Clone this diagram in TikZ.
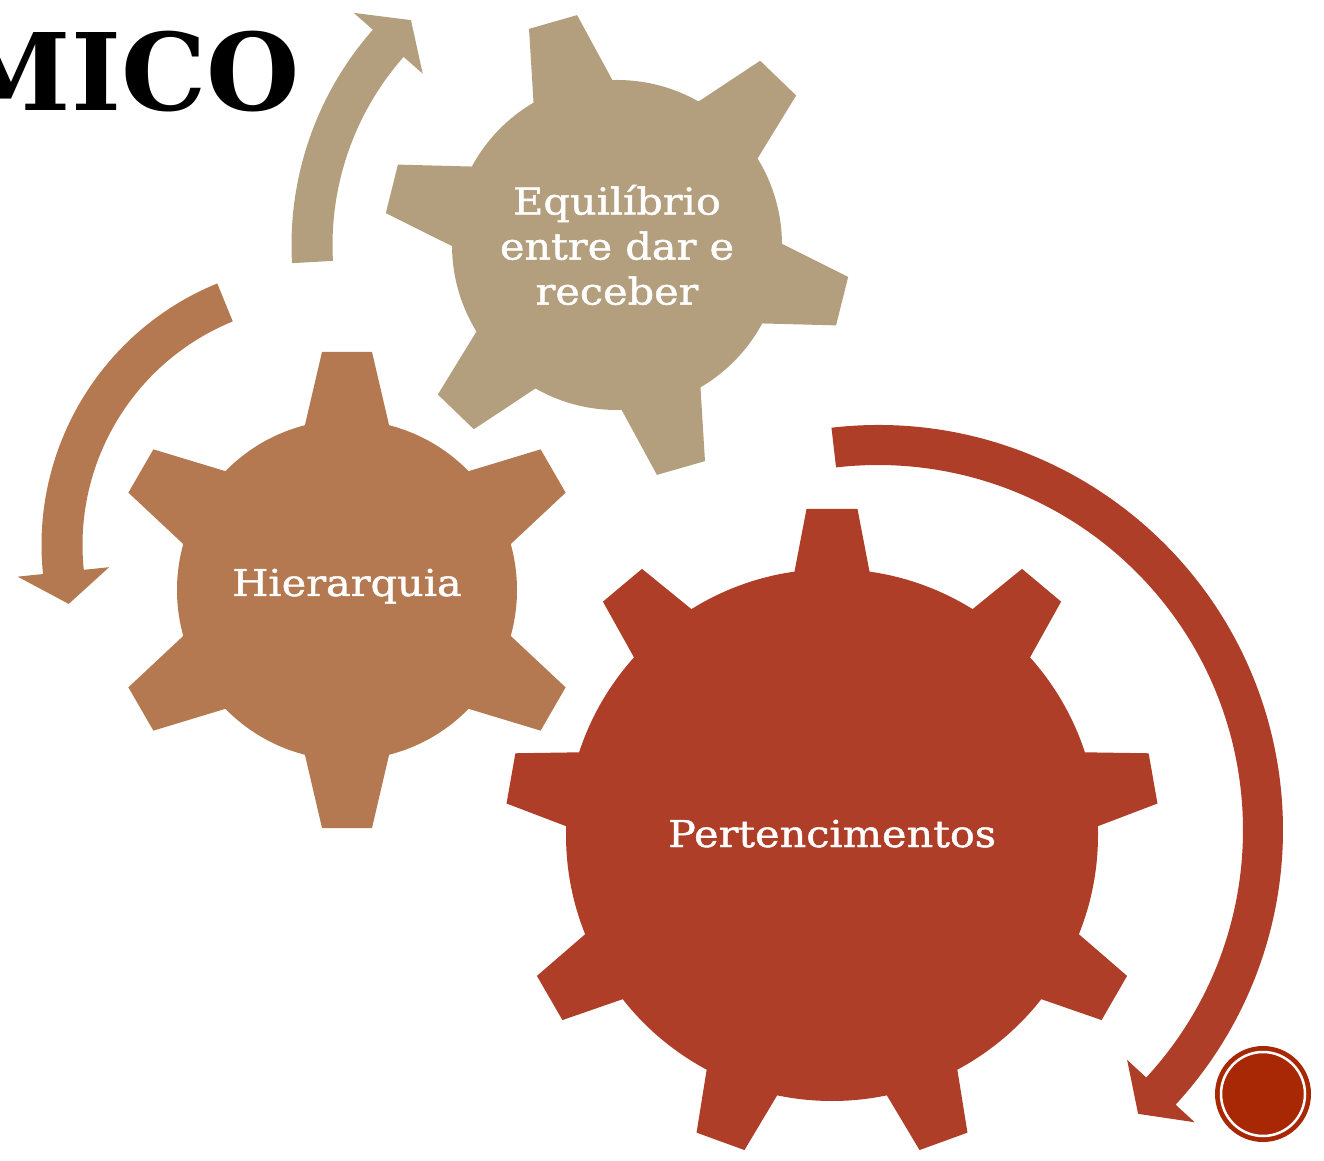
\documentclass[tikz,border=0pt]{standalone}
\usepackage{fontspec}
\setmainfont{DejaVu Serif}
\newfontfamily\gearfont{DejaVu Serif}[FakeStretch=1.12, FakeBold=1.2]
\usepackage{xcolor}
\definecolor{gearTan}{RGB}{179,159,126}
\definecolor{gearBrown}{RGB}{180,121,80}
\definecolor{gearRed}{RGB}{174,62,39}
\definecolor{slideRed}{RGB}{168,40,6}
\tikzset{
  gearlabel/.style={text=white, align=center, font=\gearfont\fontsize{37}{45}\selectfont},
  titlelabel/.style={font=\bfseries\fontsize{107}{107}\selectfont},
}

\begin{document}
\begin{tikzpicture}[x=1pt,y=1pt]
    \useasboundingbox (0,0) rectangle (1324,1160);
    \clip (0,0) rectangle (1324,1160);

    % Title (cut off at the left)
    \node[titlelabel, anchor=base east] (title) at (303,1049) {MICO};

    % Curved arrows
    \begin{scope}[shift={(617,915)}]
        \fill[gearTan] (183.2:325.5) arc[start angle=183.2, end angle=138.6, radius=325.5]
            -- (138.6:351) -- (132.5:305) -- (138.6:259) -- (138.6:284.5)
            arc[start angle=138.6, end angle=183.2, radius=284.5] -- cycle;
    \end{scope}
    \begin{scope}[shift={(324,615)}]
        \fill[gearBrown] (112.2:282.5) arc[start angle=112.2, end angle=185.9, radius=282.5]
            -- (185.9:308) -- (193:262) -- (185.9:216) -- (185.9:241.5)
            arc[start angle=185.9, end angle=112.2, radius=241.5] -- cycle;
    \end{scope}
    \begin{scope}[shift={(878,330)}]
        \fill[gearRed] (96.6:405) arc[start angle=96.6, end angle=-42.7, radius=405]
            -- (-42.7:431) -- (-47.5:385) -- (-42.7:339) -- (-42.7:365)
            arc[start angle=-42.7, end angle=96.6, radius=365] -- cycle;
    \end{scope}

    % Gear with 6 teeth (tan)
    \begin{scope}[shift={(617,915)}]
        \fill[gearTan] (0,0) circle (165);
        \foreach \a in {46,106,...,346}
            \fill[gearTan, rotate=\a] (140,-45.4) -- (232,-25) -- (232,25) -- (140,45.4) -- cycle;
    \end{scope}

    % Gear with 6 teeth (brown)
    \begin{scope}[shift={(347,570)}]
        \fill[gearBrown] (0,0) circle (170);
        \foreach \a in {30,90,...,330}
            \fill[gearBrown, rotate=\a] (145,-46.7) -- (238,-25) -- (238,25) -- (145,46.7) -- cycle;
    \end{scope}

    % Gear with 9 teeth (red)
    \begin{scope}[shift={(832,325)}]
        \fill[gearRed] (0,0) circle (266);
        \foreach \a in {10,50,...,330}
            \fill[gearRed, rotate=\a] (240,-42) -- (326,-25.5) -- (326,25.5) -- (240,42) -- cycle;
    \end{scope}

    % Labels
    \node[gearlabel] (equil) at (617,915) {Equilíbrio\\entre dar e\\receber};
    \node[gearlabel, anchor=base] (hier) at (347,564) {Hierarquia};
    \node[gearlabel, anchor=base] (pert) at (832,313) {Pertencimentos};

    % Slide number badge
    \fill[slideRed] (1263,66) circle (48);
    \draw[white, line width=2.5] (1263,66) circle (42);
\end{tikzpicture}
\end{document}
